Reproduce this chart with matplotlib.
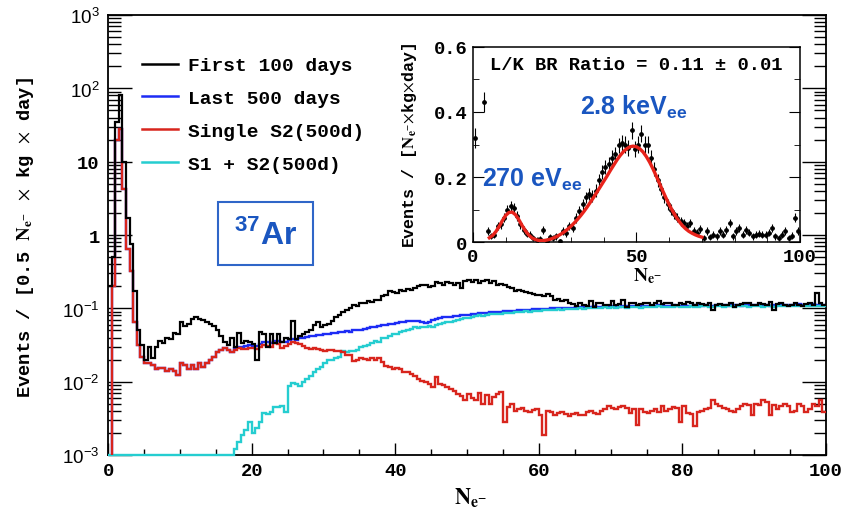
import numpy as np
import matplotlib
matplotlib.use("Agg")
import matplotlib.pyplot as plt
from matplotlib.lines import Line2D
from matplotlib.patches import Rectangle
from matplotlib.ticker import MultipleLocator, LogLocator, NullFormatter

plt.rcParams['mathtext.fontset'] = 'custom'
plt.rcParams['mathtext.rm'] = 'Liberation Sans'
plt.rcParams['mathtext.bf'] = 'Liberation Sans:bold'

MONO = 'Liberation Mono'

# main histograms: 0.5 N_e wide bins from 0 to 100
edges = np.arange(0, 100.01, 0.5)

first_100d = [
    0.2, 0.5, 35, 80, 10, 1.7, 0.75, 0.17, 0.05, 0.032,
    0.02, 0.03, 0.021, 0.03, 0.036, 0.034, 0.04, 0.038, 0.046, 0.044,
    0.065, 0.058, 0.062, 0.072, 0.075, 0.072, 0.07, 0.066, 0.062, 0.058,
    0.05, 0.042, 0.035, 0.032, 0.04, 0.03, 0.046, 0.034, 0.036, 0.035,
    0.033, 0.02, 0.048, 0.045, 0.03, 0.044, 0.034, 0.044, 0.035, 0.04,
    0.038, 0.068, 0.038, 0.042, 0.045, 0.048, 0.05, 0.06, 0.065, 0.055,
    0.06, 0.062, 0.068, 0.075, 0.08, 0.088, 0.095, 0.1, 0.11, 0.108,
    0.12, 0.118, 0.125, 0.122, 0.13, 0.128, 0.148, 0.15, 0.17, 0.165,
    0.16, 0.18, 0.175, 0.185, 0.18, 0.19, 0.2, 0.21, 0.205, 0.195,
    0.2, 0.23, 0.225, 0.21, 0.23, 0.225, 0.21, 0.22, 0.19, 0.235,
    0.24, 0.23, 0.24, 0.225, 0.235, 0.24, 0.22, 0.235, 0.21, 0.215,
    0.21, 0.195, 0.19, 0.175, 0.18, 0.17, 0.165, 0.16, 0.155, 0.15,
    0.15, 0.145, 0.155, 0.145, 0.13, 0.135, 0.125, 0.13, 0.12, 0.115,
    0.108, 0.12, 0.11, 0.108, 0.125, 0.105, 0.118, 0.12, 0.112, 0.11,
    0.125, 0.11, 0.115, 0.13, 0.105, 0.118, 0.12, 0.112, 0.115, 0.12,
    0.118, 0.11, 0.12, 0.125, 0.115, 0.12, 0.118, 0.11, 0.112, 0.12,
    0.115, 0.122, 0.12, 0.112, 0.118, 0.115, 0.11, 0.118, 0.095, 0.112,
    0.115, 0.11, 0.112, 0.118, 0.105, 0.11, 0.115, 0.118, 0.12, 0.11,
    0.112, 0.118, 0.115, 0.11, 0.122, 0.095, 0.115, 0.118, 0.112, 0.108,
    0.11, 0.118, 0.112, 0.108, 0.115, 0.12, 0.11, 0.16, 0.118, 0.11,
]

last_500d = [
    1e-5, 0.2, 20, 28, 4.3, 0.65, 0.32, 0.065, 0.032, 0.022,
    0.018, 0.018, 0.017, 0.015, 0.0155, 0.0155, 0.0138, 0.015, 0.0138, 0.0122,
    0.018, 0.017, 0.015, 0.017, 0.015, 0.018, 0.016, 0.018, 0.02, 0.022,
    0.0255, 0.027, 0.0285, 0.027, 0.0255, 0.029, 0.03, 0.03, 0.031, 0.032,
    0.031, 0.031, 0.033, 0.035, 0.035, 0.034, 0.036, 0.036, 0.035, 0.035,
    0.037, 0.038, 0.037, 0.039, 0.04, 0.041, 0.042, 0.042, 0.043, 0.043,
    0.044, 0.045, 0.046, 0.046, 0.047, 0.048, 0.049, 0.048, 0.05, 0.05,
    0.051, 0.053, 0.054, 0.055, 0.056, 0.058, 0.059, 0.06, 0.061, 0.062,
    0.064, 0.066, 0.065, 0.067, 0.068, 0.068, 0.067, 0.066, 0.064, 0.066,
    0.07, 0.071, 0.073, 0.075, 0.075, 0.077, 0.078, 0.079, 0.08, 0.08,
    0.082, 0.083, 0.084, 0.086, 0.087, 0.087, 0.088, 0.089, 0.09, 0.09,
    0.091, 0.092, 0.093, 0.093, 0.094, 0.095, 0.095, 0.096, 0.097, 0.097,
    0.098, 0.098, 0.099, 0.1, 0.1, 0.1, 0.101, 0.102, 0.102, 0.102,
    0.103, 0.104, 0.103, 0.105, 0.104, 0.106, 0.105, 0.104, 0.106, 0.107,
    0.106, 0.107, 0.105, 0.108, 0.107, 0.106, 0.108, 0.107, 0.109, 0.108,
    0.107, 0.109, 0.108, 0.11, 0.108, 0.107, 0.109, 0.11, 0.108, 0.109,
    0.11, 0.109, 0.108, 0.11, 0.111, 0.109, 0.11, 0.108, 0.107, 0.11,
    0.111, 0.11, 0.109, 0.111, 0.112, 0.11, 0.109, 0.111, 0.11, 0.112,
    0.111, 0.11, 0.112, 0.111, 0.109, 0.11, 0.112, 0.113, 0.111, 0.11,
    0.112, 0.111, 0.113, 0.112, 0.11, 0.111, 0.113, 0.112, 0.111, 0.112,
]

single_s2 = [
    1e-5, 0.2, 20, 28, 4.3, 0.65, 0.32, 0.065, 0.032, 0.022,
    0.018, 0.018, 0.017, 0.015, 0.0155, 0.0155, 0.0138, 0.015, 0.0138, 0.0122,
    0.018, 0.017, 0.015, 0.017, 0.015, 0.018, 0.016, 0.018, 0.02, 0.022,
    0.0255, 0.027, 0.0285, 0.027, 0.0255, 0.027, 0.029, 0.028, 0.028, 0.029,
    0.029, 0.028, 0.03, 0.032, 0.031, 0.03, 0.034, 0.033, 0.029, 0.031,
    0.033, 0.035, 0.034, 0.033, 0.031, 0.029, 0.028, 0.029, 0.028, 0.027,
    0.026, 0.027, 0.027, 0.026, 0.026, 0.025, 0.023, 0.0228, 0.019, 0.02,
    0.021, 0.0205, 0.02, 0.021, 0.02, 0.021, 0.0185, 0.0165, 0.016, 0.015,
    0.0155, 0.015, 0.0134, 0.0134, 0.0128, 0.012, 0.0108, 0.0102, 0.0098, 0.0092,
    0.0085, 0.0115, 0.0093, 0.009, 0.0085, 0.008, 0.0075, 0.0068, 0.0063, 0.0056,
    0.0068, 0.006, 0.0056, 0.007, 0.0049, 0.0065, 0.005, 0.0062, 0.0068, 0.0073,
    0.0028, 0.0045, 0.0049, 0.004, 0.0042, 0.0044, 0.004, 0.0038, 0.0041, 0.0042,
    0.0035, 0.0019, 0.004, 0.0038, 0.0035, 0.0037, 0.0038, 0.0036, 0.0034, 0.0036,
    0.0037, 0.0035, 0.0035, 0.0038, 0.004, 0.0037, 0.0036, 0.004, 0.0042, 0.0046,
    0.0044, 0.0042, 0.0045, 0.0047, 0.0044, 0.0037, 0.0042, 0.0026, 0.0042, 0.0038,
    0.0037, 0.004, 0.0042, 0.0038, 0.0046, 0.004, 0.0043, 0.0045, 0.0044, 0.0028,
    0.0046, 0.0037, 0.0036, 0.0025, 0.0038, 0.004, 0.0042, 0.0044, 0.0056, 0.005,
    0.0046, 0.0044, 0.0042, 0.004, 0.0038, 0.0042, 0.0046, 0.005, 0.0048, 0.0035,
    0.005, 0.0048, 0.0056, 0.0052, 0.0035, 0.0048, 0.0042, 0.0046, 0.005, 0.0046,
    0.0038, 0.004, 0.005, 0.0046, 0.0038, 0.0042, 0.005, 0.0046, 0.0056, 0.0038,
]

s1_s2 = [
    0.001, 0.001, 0.001, 0.001, 0.001, 0.001, 0.001, 0.001, 0.001, 0.001,
    0.001, 0.001, 0.001, 0.001, 0.001, 0.001, 0.001, 0.001, 0.001, 0.001,
    0.001, 0.001, 0.001, 0.001, 0.001, 0.001, 0.001, 0.001, 0.001, 0.001,
    0.001, 0.001, 0.001, 0.001, 0.001, 0.0012, 0.0015, 0.0019, 0.0022, 0.0028,
    0.002, 0.0023, 0.0028, 0.0037, 0.0036, 0.0039, 0.0045, 0.0045, 0.0047, 0.0039,
    0.0087, 0.0095, 0.0092, 0.0087, 0.010, 0.011, 0.012, 0.0135, 0.0148, 0.016,
    0.018, 0.02, 0.02, 0.021, 0.022, 0.026, 0.025, 0.026, 0.026, 0.027,
    0.03, 0.031, 0.032, 0.034, 0.036, 0.035, 0.04, 0.04, 0.042, 0.044,
    0.045, 0.047, 0.049, 0.05, 0.052, 0.055, 0.054, 0.056, 0.055, 0.058,
    0.056, 0.06, 0.062, 0.063, 0.065, 0.066, 0.068, 0.07, 0.072, 0.073,
    0.074, 0.076, 0.078, 0.08, 0.079, 0.081, 0.083, 0.085, 0.084, 0.085,
    0.086, 0.087, 0.086, 0.088, 0.09, 0.089, 0.091, 0.09, 0.092, 0.093,
    0.093, 0.094, 0.095, 0.094, 0.096, 0.097, 0.096, 0.098, 0.097, 0.099,
    0.098, 0.1, 0.099, 0.1, 0.101, 0.1, 0.102, 0.101, 0.103, 0.102,
    0.103, 0.102, 0.104, 0.103, 0.101, 0.104, 0.103, 0.105, 0.102, 0.104,
    0.104, 0.103, 0.105, 0.106, 0.103, 0.104, 0.105, 0.103, 0.106, 0.105,
    0.105, 0.104, 0.106, 0.105, 0.103, 0.106, 0.107, 0.105, 0.104, 0.106,
    0.107, 0.105, 0.106, 0.108, 0.104, 0.106, 0.107, 0.106, 0.105, 0.108,
    0.106, 0.107, 0.105, 0.108, 0.107, 0.104, 0.106, 0.108, 0.107, 0.106,
    0.108, 0.107, 0.106, 0.109, 0.107, 0.106, 0.108, 0.107, 0.109, 0.108,
]

labels = ['First 100 days', 'Last 500 days', 'Single S2(500d)', 'S1 + S2(500d)']
colors = ['black', '#1d2cf5', '#d8251d', '#25cdd0']

ytick_vals = [1e-3, 1e-2, 1e-1, 1, 10, 1e2, 1e3]
ytick_labels = ['$10^{-3}$', '$10^{-2}$', '$10^{-1}$', '1', '10', '$10^{2}$', '$10^{3}$']

# inset: 1 N_e bins, centres at k + 0.5
inset_y = [
    0.32, 30.0, 2.5, 0.43, 0.033, 0.018, 0.023, 0.049, 0.054, 0.075,
    0.100, 0.110, 0.105, 0.080, 0.054, 0.038, 0.025, 0.023, 0.012, 0.007,
    0.010, 0.038, 0.004, 0.015, 0.012, 0.018, 0.002, 0.033, 0.028, 0.049,
    0.043, 0.075, 0.095, 0.116, 0.137, 0.147, 0.142, 0.158, 0.190, 0.215,
    0.230, 0.240, 0.260, 0.270, 0.297, 0.305, 0.300, 0.290, 0.344, 0.287,
    0.300, 0.333, 0.300, 0.300, 0.260, 0.225, 0.190, 0.163, 0.137, 0.116,
    0.100, 0.085, 0.075, 0.064, 0.059, 0.049, 0.059, 0.033, 0.028, 0.041,
    0.012, 0.033, 0.015, 0.023, 0.018, 0.033, 0.023, 0.038, 0.059, 0.018,
    0.033, 0.043, 0.023, 0.038, 0.028, 0.018, 0.023, 0.025, 0.023, 0.023,
    0.028, 0.043, 0.018, 0.012, 0.023, 0.033, 0.012, 0.020, 0.075, 0.033,
]
inset_err = [
    0.03, 0.1, 0.06, 0.03, 0.012, 0.01, 0.01, 0.012, 0.013, 0.014,
    0.015, 0.016, 0.016, 0.015, 0.013, 0.012, 0.011, 0.011, 0.01, 0.009,
    0.009, 0.012, 0.008, 0.01, 0.01, 0.011, 0.008, 0.012, 0.012, 0.013,
    0.013, 0.015, 0.016, 0.017, 0.018, 0.018, 0.018, 0.019, 0.02, 0.021,
    0.022, 0.022, 0.023, 0.023, 0.024, 0.025, 0.025, 0.024, 0.026, 0.024,
    0.025, 0.026, 0.025, 0.025, 0.023, 0.022, 0.02, 0.019, 0.018, 0.017,
    0.016, 0.015, 0.014, 0.014, 0.013, 0.013, 0.013, 0.012, 0.011, 0.012,
    0.01, 0.012, 0.01, 0.011, 0.011, 0.012, 0.011, 0.012, 0.013, 0.011,
    0.012, 0.012, 0.011, 0.012, 0.011, 0.011, 0.011, 0.011, 0.011, 0.011,
    0.011, 0.012, 0.011, 0.01, 0.011, 0.012, 0.01, 0.011, 0.014, 0.012,
]
fit_y = [
    0.013, 0.02, 0.032, 0.048, 0.066, 0.082, 0.091, 0.092, 0.084, 0.069,
    0.051, 0.035, 0.022, 0.013, 0.008, 0.005, 0.004, 0.005, 0.007, 0.01,
    0.014, 0.019, 0.025, 0.032, 0.04, 0.049, 0.059, 0.07, 0.082, 0.095,
    0.109, 0.124, 0.139, 0.155, 0.171, 0.187, 0.203, 0.22, 0.236, 0.252,
    0.266, 0.278, 0.287, 0.293, 0.295, 0.293, 0.287, 0.277, 0.263, 0.246,
    0.226, 0.204, 0.181, 0.158, 0.136, 0.115, 0.096, 0.079, 0.064, 0.051,
    0.041, 0.033, 0.027, 0.022, 0.018, 0.015,
]

fig = plt.figure(figsize=(8.46, 5.10), dpi=100)
ax = fig.add_axes([0.1277, 0.1059, 0.8487, 0.8627])

ax.stairs(last_500d, edges, baseline=None, color=colors[1], lw=1.7, zorder=2)
ax.stairs(s1_s2, edges, baseline=None, color=colors[3], lw=1.7, zorder=3, clip_on=False)
ax.stairs(single_s2, edges, baseline=None, color=colors[2], lw=1.7, zorder=4)
ax.stairs(first_100d, edges, baseline=None, color=colors[0], lw=1.6, zorder=5)

ax.set_yscale('log')
ax.set_xlim(0, 100)
ax.set_ylim(1e-3, 1e3)
ax.set_yticks(ytick_vals)
ax.set_yticklabels(ytick_labels)
ax.yaxis.set_minor_locator(LogLocator(base=10, subs=np.arange(2, 10), numticks=20))
ax.yaxis.set_minor_formatter(NullFormatter())
ax.xaxis.set_major_locator(MultipleLocator(20))
ax.xaxis.set_minor_locator(MultipleLocator(5))
ax.tick_params(which='both', direction='in', right=True, top=False, width=1.0)
ax.tick_params(axis='y', which='major', length=17, pad=6)
ax.tick_params(axis='y', which='minor', length=9)
ax.tick_params(axis='x', which='major', length=9, pad=5)
ax.tick_params(axis='x', which='minor', length=4.5)
for lbl in ax.get_xticklabels() + ax.get_yticklabels():
    lbl.set_fontfamily(MONO)
    lbl.set_fontweight('bold')
    lbl.set_fontsize(13.5)
for sp in ax.spines.values():
    sp.set_linewidth(1.3)

handles = [Line2D([], [], color=c, lw=1.8) for c in colors]
leg = ax.legend(handles, labels, loc='upper left', bbox_to_anchor=(0.047, 0.905),
                frameon=False, borderpad=0, borderaxespad=0, handlelength=1.85,
                handletextpad=0.55, labelspacing=0.78,
                prop={'family': MONO, 'weight': 'bold', 'size': 14})

fig.text(0.030, 0.535, r'Events / [0.5 $\mathbf{N}_{\mathbf{e}^{\mathbf{-}}}$ $\times$ kg $\times$ day]',
         rotation=90, ha='center', va='center', family=MONO, weight='bold', fontsize=13.5,
         math_fontfamily='stix')
fig.text(0.556, 0.024, r'$\mathbf{N}_{\mathbf{e}^{\mathbf{-}}}$', ha='center', va='center',
         fontsize=16, math_fontfamily='stix')

# 37Ar box
box = Rectangle((218 / 846, 1 - 266 / 510), 95 / 846, 63 / 510, transform=fig.transFigure,
                facecolor='white', edgecolor='#2f66c8', lw=1.5, zorder=6)
fig.patches.append(box)
fig.text(266 / 846, 1 - 235 / 510, r'$^{\mathbf{37}}$Ar', ha='center', va='center',
         color='#1a56c0', fontsize=23, family='Liberation Sans', weight='bold', zorder=7)

# inset
ins = fig.add_axes([0.5591, 0.5235, 0.3865, 0.3824])
ins.set_facecolor('white')
ins.errorbar(np.arange(100) + 0.5, inset_y, yerr=inset_err, xerr=0.5, fmt='o', ms=2.4,
             color='black', elinewidth=0.8, capsize=0)
ins.plot(np.arange(5, 71), fit_y, color='#e8231b', lw=2.4, zorder=4)
ins.set_xlim(0, 100)
ins.set_ylim(0, 0.6)
ins.set_xticks([0, 50, 100])
ins.set_xticklabels(['0', '50', '100'])
ins.set_yticks([0, 0.2, 0.4, 0.6])
ins.set_yticklabels(['0', '0.2', '0.4', '0.6'])
ins.xaxis.set_minor_locator(MultipleLocator(10))
ins.yaxis.set_minor_locator(MultipleLocator(0.1))
ins.tick_params(which='both', direction='in', right=True, top=False)
ins.tick_params(axis='y', which='major', length=8, pad=4)
ins.tick_params(axis='y', which='minor', length=4)
ins.tick_params(axis='x', which='major', length=7, pad=4)
ins.tick_params(axis='x', which='minor', length=3.5)
for lbl in ins.get_xticklabels() + ins.get_yticklabels():
    lbl.set_fontfamily(MONO)
    lbl.set_fontweight('bold')
    lbl.set_fontsize(13.5)
for sp in ins.spines.values():
    sp.set_linewidth(1.1)

ins.text(0.5, 0.91, 'L/K BR Ratio = 0.11 \u00b1 0.01', transform=ins.transAxes, ha='center',
         va='center', family=MONO, weight='bold', fontsize=13.5)
fig.text(580 / 846, 1 - 115 / 510, r'2.8 keV$_{\mathbf{ee}}$', ha='left', va='baseline',
         color='#1a56c0', fontsize=18, family='Liberation Sans', weight='bold')
fig.text(482 / 846, 1 - 187 / 510, r'270 eV$_{\mathbf{ee}}$', ha='left', va='baseline',
         color='#1a56c0', fontsize=18, family='Liberation Sans', weight='bold')
fig.text(409 / 846, 1 - 146 / 510, r'Events / [$\mathbf{N}_{\mathbf{e}^{\mathbf{-}}}$$\times$kg$\times$day]',
         rotation=90, ha='center', va='center', family=MONO, weight='bold', fontsize=12,
         math_fontfamily='stix')
fig.text(648 / 846, 1 - 276 / 510, r'$\mathbf{N}_{\mathbf{e}^{\mathbf{-}}}$', ha='center', va='center',
         fontsize=14, math_fontfamily='stix')

fig.savefig('out.png', dpi=100)
